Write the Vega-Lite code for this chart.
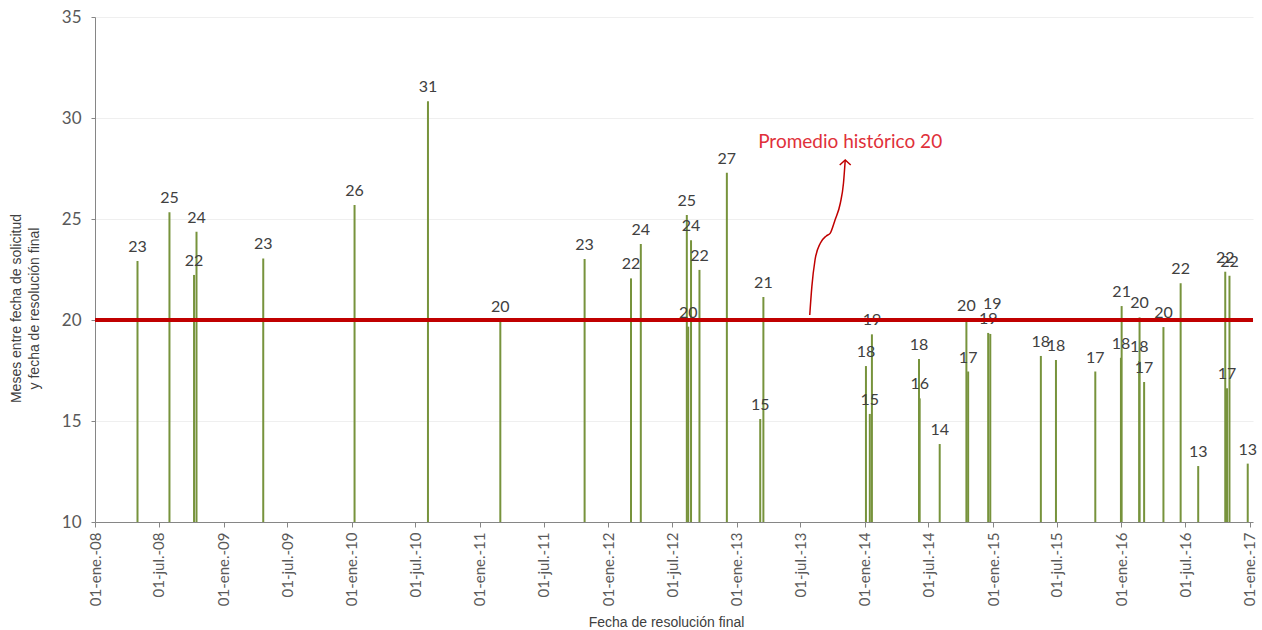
{
  "$schema": "https://vega.github.io/schema/vega-lite/v6.json",
  "width": 1158,
  "height": 505,
  "autosize": "none",
  "padding": {"left": 95, "top": 17, "right": 9, "bottom": 108},
  "background": "white",
  "config": {"view": {"stroke": null}, "font": "Lato"},
  "datasets": {
    "bars": [
      {"fecha": "2008-05-01", "meses": 22.92},
      {"fecha": "2008-07-31", "meses": 25.33},
      {"fecha": "2008-10-09", "meses": 22.23},
      {"fecha": "2008-10-16", "meses": 24.37},
      {"fecha": "2009-04-24", "meses": 23.05},
      {"fecha": "2010-01-09", "meses": 25.69},
      {"fecha": "2010-08-06", "meses": 30.83},
      {"fecha": "2011-02-28", "meses": 19.95},
      {"fecha": "2011-10-26", "meses": 23.02},
      {"fecha": "2012-03-06", "meses": 22.06},
      {"fecha": "2012-04-03", "meses": 23.76},
      {"fecha": "2012-08-12", "meses": 25.2},
      {"fecha": "2012-08-16", "meses": 19.67},
      {"fecha": "2012-08-24", "meses": 23.95},
      {"fecha": "2012-09-17", "meses": 22.48},
      {"fecha": "2012-12-04", "meses": 27.29},
      {"fecha": "2013-03-09", "meses": 15.1},
      {"fecha": "2013-03-18", "meses": 21.14},
      {"fecha": "2014-01-04", "meses": 17.72},
      {"fecha": "2014-01-15", "meses": 15.35},
      {"fecha": "2014-01-21", "meses": 19.29},
      {"fecha": "2014-06-04", "meses": 18.07},
      {"fecha": "2014-06-06", "meses": 16.12},
      {"fecha": "2014-08-02", "meses": 13.86},
      {"fecha": "2014-10-17", "meses": 20.0},
      {"fecha": "2014-10-22", "meses": 17.45},
      {"fecha": "2014-12-18", "meses": 19.36},
      {"fecha": "2014-12-24", "meses": 19.31},
      {"fecha": "2015-05-17", "meses": 18.22},
      {"fecha": "2015-06-29", "meses": 18.02},
      {"fecha": "2015-10-19", "meses": 17.45},
      {"fecha": "2015-12-31", "meses": 18.13},
      {"fecha": "2016-01-02", "meses": 20.69},
      {"fecha": "2016-02-21", "meses": 17.97},
      {"fecha": "2016-02-22", "meses": 20.13},
      {"fecha": "2016-03-06", "meses": 16.93},
      {"fecha": "2016-04-30", "meses": 19.65},
      {"fecha": "2016-06-18", "meses": 21.82},
      {"fecha": "2016-08-07", "meses": 12.77},
      {"fecha": "2016-10-23", "meses": 22.39},
      {"fecha": "2016-10-28", "meses": 16.62},
      {"fecha": "2016-11-04", "meses": 22.19},
      {"fecha": "2016-12-26", "meses": 12.89}
    ],
    "arrow": [
      {"fecha": "2013-07-28", "v": 20.25, "o": 1},
      {"fecha": "2013-08-03", "v": 21.65, "o": 2},
      {"fecha": "2013-08-12", "v": 22.97, "o": 3},
      {"fecha": "2013-08-27", "v": 23.8, "o": 4},
      {"fecha": "2013-09-13", "v": 24.16, "o": 5},
      {"fecha": "2013-09-24", "v": 24.29, "o": 6},
      {"fecha": "2013-10-08", "v": 24.95, "o": 7},
      {"fecha": "2013-10-23", "v": 25.78, "o": 8},
      {"fecha": "2013-11-01", "v": 26.77, "o": 9},
      {"fecha": "2013-11-06", "v": 27.92, "o": 10}
    ]
  },
  "encoding": {
    "x": {
      "field": "fecha",
      "type": "temporal",
      "scale": {"type": "utc", "domain": [{"year": 2008, "month": 1, "date": 1, "utc": true}, {"year": 2017, "month": 1, "date": 10, "utc": true}]},
      "axis": {
        "values": [
          {"year": 2008, "month": 1, "date": 1, "utc": true}, {"year": 2008, "month": 7, "date": 1, "utc": true},
          {"year": 2009, "month": 1, "date": 1, "utc": true}, {"year": 2009, "month": 7, "date": 1, "utc": true},
          {"year": 2010, "month": 1, "date": 1, "utc": true}, {"year": 2010, "month": 7, "date": 1, "utc": true},
          {"year": 2011, "month": 1, "date": 1, "utc": true}, {"year": 2011, "month": 7, "date": 1, "utc": true},
          {"year": 2012, "month": 1, "date": 1, "utc": true}, {"year": 2012, "month": 7, "date": 1, "utc": true},
          {"year": 2013, "month": 1, "date": 1, "utc": true}, {"year": 2013, "month": 7, "date": 1, "utc": true},
          {"year": 2014, "month": 1, "date": 1, "utc": true}, {"year": 2014, "month": 7, "date": 1, "utc": true},
          {"year": 2015, "month": 1, "date": 1, "utc": true}, {"year": 2015, "month": 7, "date": 1, "utc": true},
          {"year": 2016, "month": 1, "date": 1, "utc": true}, {"year": 2016, "month": 7, "date": 1, "utc": true},
          {"year": 2017, "month": 1, "date": 1, "utc": true}
        ],
        "labelExpr": "(utcmonth(datum.value) == 0 ? '01-ene.-' : '01-jul.-') + utcFormat(datum.value, '%y')",
        "labelAngle": 270,
        "labelAlign": "right",
        "labelBaseline": "middle",
        "labelPadding": 5,
        "labelFontSize": 15,
        "labelColor": "#595959",
        "labelFont": "Lato",
        "labelOverlap": false,
        "labelFlush": false,
        "grid": false,
        "domainColor": "#868686",
        "tickColor": "#868686",
        "tickSize": 5,
        "title": "Fecha de resolución final",
        "titleFont": "Liberation Sans",
        "titleFontSize": 14,
        "titleFontWeight": "normal",
        "titleColor": "#404040",
        "titleX": 571,
        "titleY": 104,
        "titleBaseline": "alphabetic"
      }
    }
  },
  "layer": [
    {
      "data": {"name": "bars"},
      "mark": {"type": "rule", "color": "#77933C", "strokeWidth": 2},
      "encoding": {
        "y": {
          "field": "meses",
          "type": "quantitative",
          "scale": {"domain": [10, 35], "nice": false, "zero": false},
          "axis": {
            "values": [10, 15, 20, 25, 30, 35],
            "grid": true,
            "gridColor": "#EFEFEF",
            "gridWidth": 1,
            "domainColor": "#868686",
            "tickColor": "#868686",
            "tickSize": 4,
            "labelPadding": 10,
            "labelFontSize": 17,
            "labelColor": "#595959",
            "labelFont": "Lato",
            "title": ["Meses entre fecha de solicitud", "y fecha de resolución final"],
            "titleFont": "Liberation Sans",
            "titleFontSize": 14,
            "titleFontWeight": "normal",
            "titleColor": "#404040",
            "titleLineHeight": 18,
            "titleAngle": -90,
            "titleBaseline": "top",
            "titleAlign": "center",
            "titleX": -86,
            "titleY": 291
          }
        },
        "y2": {"datum": 10}
      }
    },
    {
      "data": {"name": "bars"},
      "transform": [{"filter": "datum.meses != 19.31"}],
      "mark": {"type": "text", "baseline": "alphabetic", "dy": -9, "fontSize": 16, "color": "#404040", "font": "Lato"},
      "encoding": {
        "y": {"field": "meses", "type": "quantitative"},
        "text": {"field": "meses", "type": "quantitative", "format": ".0f"}
      }
    },
    {
      "data": {"name": "bars"},
      "transform": [{"filter": "datum.meses == 19.31"}],
      "mark": {"type": "text", "baseline": "alphabetic", "dy": -25, "dx": 2, "fontSize": 16, "color": "#404040", "font": "Lato"},
      "encoding": {
        "y": {"field": "meses", "type": "quantitative"},
        "text": {"field": "meses", "type": "quantitative", "format": ".0f"}
      }
    },
    {
      "data": {"values": [{}]},
      "mark": {"type": "rule", "color": "#C00000", "strokeWidth": 4},
      "encoding": {"y": {"datum": 20}, "x": null}
    },
    {
      "data": {"name": "arrow"},
      "mark": {"type": "line", "color": "#C00000", "strokeWidth": 1.5, "interpolate": "monotone"},
      "encoding": {
        "y": {"field": "v", "type": "quantitative"},
        "order": {"field": "o", "type": "quantitative"}
      }
    },
    {
      "data": {"values": [{"fecha": "2013-11-06", "v": 27.92}]},
      "mark": {"type": "point", "shape": "M-1,0.9L0,0L1,0.9", "size": 121, "filled": false, "stroke": "#C00000", "strokeWidth": 1.5, "opacity": 1},
      "encoding": {"y": {"field": "v", "type": "quantitative"}}
    },
    {
      "data": {"values": [{"fecha": "2013-11-20", "v": 28.83, "t": "Promedio histórico 20"}]},
      "mark": {"type": "text", "fontSize": 19, "color": "#E0303A", "font": "Lato", "baseline": "middle", "align": "center"},
      "encoding": {
        "y": {"field": "v", "type": "quantitative"},
        "text": {"field": "t"}
      }
    }
  ]
}
